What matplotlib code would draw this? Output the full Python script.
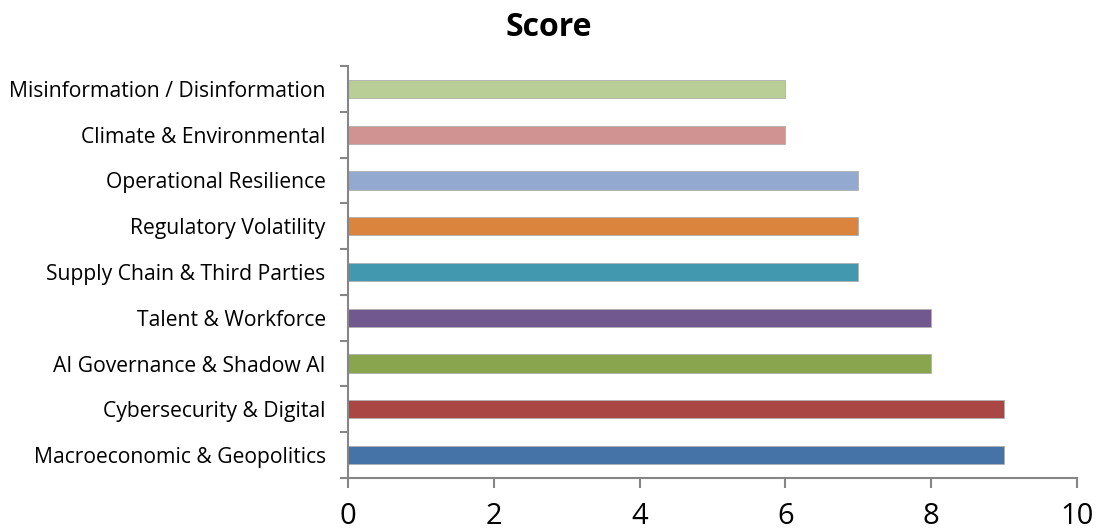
import numpy as np
import matplotlib.pyplot as plt

plt.rcParams['font.family'] = ['Open Sans', 'DejaVu Sans']

# 风险类别（自下而上）及得分
categories = ['Macroeconomic & Geopolitics', 'Cybersecurity & Digital',
              'AI Governance & Shadow AI', 'Talent & Workforce',
              'Supply Chain & Third Parties', 'Regulatory Volatility',
              'Operational Resilience', 'Climate & Environmental',
              'Misinformation / Disinformation']
scores = [9, 9, 8, 8, 7, 7, 7, 6, 6]
colors = ['#4572A7', '#AA4643', '#89A54E', '#71588F', '#4198AF',
          '#DB843D', '#93A9CF', '#D19392', '#B9CD96']
xticks = [0, 2, 4, 6, 8, 10]

fig = plt.figure(figsize=(10.97, 5.29), dpi=100)
ax = fig.add_axes([0.3172, 0.0964, 0.6646, 0.7788])

y = np.arange(len(categories))
ax.barh(y, scores, height=0.4, color=colors, edgecolor='#B0B0B0', linewidth=0.6)

ax.set_xlim(0, 10)
ax.set_ylim(-0.5, len(categories) - 0.5)
ax.set_xticks(xticks)
ax.set_xticklabels([str(v) for v in xticks], fontsize=21)

# 类别名放在柱中间，刻度线放在分隔处
ax.set_yticks(y)
ax.set_yticklabels(categories, fontsize=15.2)
ax.set_yticks(np.arange(-0.5, len(categories)), minor=True)
ax.tick_params(axis='y', which='major', length=0, pad=16)
ax.tick_params(axis='y', which='minor', length=6, width=1.5, color='#868686')
ax.tick_params(axis='x', length=7, width=1.5, color='#868686', pad=10)

for side in ['top', 'right']:
    ax.spines[side].set_visible(False)
for side in ['left', 'bottom']:
    ax.spines[side].set_color('#868686')
    ax.spines[side].set_linewidth(1.5)

fig.suptitle('Score', fontsize=23, fontweight='bold', y=0.98)

fig.savefig('out.png', dpi=100)
